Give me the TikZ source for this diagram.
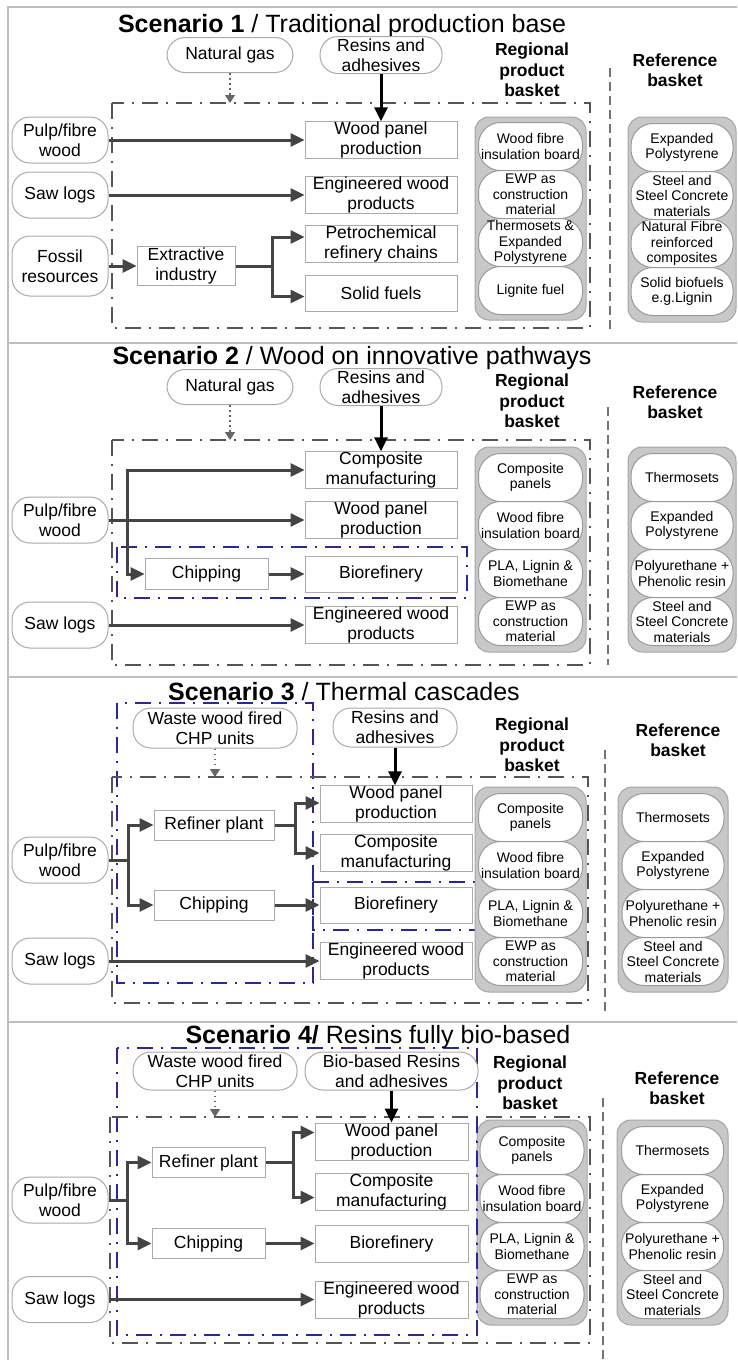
\documentclass[tikz,border=0pt]{standalone}
\usepackage{fontspec}
\setmainfont{Liberation Sans}
\usetikzlibrary{arrows.meta}
\definecolor{fr}{RGB}{85,85,85}
\definecolor{bl}{RGB}{40,40,150}
\definecolor{ar}{RGB}{68,68,68}
\definecolor{bx}{RGB}{170,170,170}
\definecolor{bk}{RGB}{200,200,200}
\newcommand\fA{\fontsize{17.5}{20}\selectfont}
\newcommand\fB{\fontsize{14}{15.5}\selectfont}
\newcommand\fT{\fontsize{25}{28}\selectfont}
\newcommand\fL{\fontsize{17.5}{20.5}\selectfont\bfseries}
\begin{document}
\begin{tikzpicture}[x=1pt,y=-1pt,
  src/.style={draw=bx, fill=white, line width=1pt, rounded corners=18pt, align=center, inner sep=0pt, font=\fA},
  proc/.style={draw=bx, fill=white, line width=1pt, align=center, inner sep=0pt, font=\fA},
  lab/.style={align=center, inner sep=0pt, font=\fL},
  ttl/.style={anchor=base, inner sep=0pt, font=\fT},
  basket/.style={draw=black!35, fill=bk, line width=1pt, rounded corners=14pt, inner sep=0pt},
  pill/.style={draw=black!40, fill=white, line width=1pt, rounded corners=22pt, align=center, inner sep=0pt, font=\fB, minimum height=48pt},
  flow/.style={draw=ar, line width=3pt, -{Triangle[length=14pt,width=13pt]}},
  flowline/.style={draw=ar, line width=3pt},
  blk/.style={draw=black, line width=3pt, -{Triangle[length=14pt,width=13pt]}},
  dots/.style={draw=black!60, line width=1.5pt, dash pattern=on 1.5pt off 3.5pt, -{Triangle[length=8pt,width=10pt]}},
  gframe/.style={draw=fr, line width=2.6pt, dash pattern=on 16pt off 18pt, preaction={draw=fr, line width=1.2pt, dash pattern=on 2pt off 32pt, dash phase=10pt}},
  bframe/.style={draw=bl, line width=2.2pt, dash pattern=on 16pt off 18pt, preaction={draw=bl, line width=1.2pt, dash pattern=on 2pt off 32pt, dash phase=10pt}},
  vdash/.style={draw=black!55, line width=1.3pt, dash pattern=on 9pt off 5pt},
  sep/.style={draw=black!25, line width=2pt}
]
\useasboundingbox (0,0) rectangle (737,1360);
\fill[white] (0,0) rectangle (737,1360);
% border and separators
\draw[sep] (8,1360) -- (8,7) -- (737,7);
\draw[sep] (8,343) -- (737,343);
\draw[sep] (8,677) -- (737,677);
\draw[sep] (8,1022) -- (737,1022);

%================ Scenario 1
\draw[gframe] (112,103) rectangle (590,328);
\draw[vdash] (610,68) -- (610,333);
\node[ttl] (t1) at (342,32) {\textbf{Scenario 1} / Traditional production base};
\node[src, minimum width=126pt, minimum height=35pt] (ng1) at (230,55) {Natural gas};
\node[src, minimum width=122pt, minimum height=37pt] (rs1) at (381,55) {Resins and\\adhesives};
\node[lab] (rl1) at (532,70) {Regional\\product\\basket};
\node[lab] (rb1) at (675,70) {Reference\\basket};
\node[src, minimum width=96pt, minimum height=46pt] (pu1) at (60,140) {Pulp/fibre\\wood};
\node[src, minimum width=96pt, minimum height=46pt] (sl1) at (60,195) {Saw logs};
\node[src, minimum width=96pt, minimum height=60pt] (fo1) at (60,266) {Fossil\\resources};
\node[proc, minimum width=98pt, minimum height=39pt] (ex1) at (186,266) {Extractive\\industry};
\node[proc, minimum width=152pt, minimum height=36pt] (wp1) at (381,140) {Wood panel\\production};
\node[proc, minimum width=152pt, minimum height=36pt] (ew1) at (381,195) {Engineered wood\\products};
\node[proc, minimum width=152pt, minimum height=36pt] (pe1) at (381,244) {Petrochemical\\refinery chains};
\node[proc, minimum width=152pt, minimum height=36pt] (so1) at (381,293.5) {Solid fuels};
\node[basket, minimum width=111pt, minimum height=203pt] (rg1) at (530.5,218.5) {};
\node[pill, minimum width=104pt] (a11) at (530.5,146.5) {Wood fibre\\insulation board};
\node[pill, minimum width=104pt] (a12) at (530.5,194.5) {EWP as\\construction\\material};
\node[pill, minimum width=104pt] (a13) at (530.5,242.5) {Thermosets \&\\Expanded\\Polystyrene};
\node[pill, minimum width=104pt] (a14) at (530.5,290.5) {Lignite fuel};
\node[basket, minimum width=108pt, minimum height=205pt] (rk1) at (682,219.5) {};
\node[pill, minimum width=102pt] (b11) at (682,147.5) {Expanded\\Polystyrene};
\node[pill, minimum width=102pt] (b12) at (682,195.5) {Steel and\\Steel Concrete\\materials};
\node[pill, minimum width=102pt] (b13) at (682,243.5) {Natural Fibre\\reinforced\\composites};
\node[pill, minimum width=102pt] (b14) at (682,291.5) {Solid biofuels\\e.g.Lignin};
\coordinate (f1) at (230,103);
\draw[dots] (ng1.south) -- (f1);
\draw[blk] (rs1.south) -- (wp1.north);
\draw[flow] (pu1.east) -- (wp1.west);
\draw[flow] (sl1.east) -- (ew1.west);
\draw[flow] (fo1.east) -- (ex1.west);
\coordinate (b1) at (272,266);
\draw[flowline] (ex1.east) -- (b1);
\draw[flow] (b1) |- ([yshift=7pt]pe1.west);
\draw[flow] (b1) |- ([yshift=-3pt]so1.west);

%================ Scenario 2
\draw[gframe] (112,440) rectangle (590,665);
\draw[bframe] (117,547) rectangle (467,598);
\draw[vdash] (608,407) -- (608,665);
\node[ttl] (t2) at (352,364) {\textbf{Scenario 2} / Wood on innovative pathways};
\node[src, minimum width=126pt, minimum height=35pt] (ng2) at (230,387) {Natural gas};
\node[src, minimum width=122pt, minimum height=37pt] (rs2) at (381,387) {Resins and\\adhesives};
\node[lab] (rl2) at (532,401) {Regional\\product\\basket};
\node[lab] (rb2) at (675,402) {Reference\\basket};
\node[src, minimum width=96pt, minimum height=46pt] (pu2) at (60,520) {Pulp/fibre\\wood};
\node[src, minimum width=96pt, minimum height=46pt] (sl2) at (60,625) {Saw logs};
\node[proc, minimum width=152pt, minimum height=36pt] (cm2) at (381,470) {Composite\\manufacturing};
\node[proc, minimum width=152pt, minimum height=36pt] (wp2) at (381,520) {Wood panel\\production};
\node[proc, minimum width=152pt, minimum height=36pt] (bi2) at (381,574) {Biorefinery};
\node[proc, minimum width=152pt, minimum height=36pt] (ew2) at (381,625) {Engineered wood\\products};
\node[proc, minimum width=123pt, minimum height=31pt] (ch2) at (206.5,574) {Chipping};
\node[basket, minimum width=111pt, minimum height=205pt] (rg2) at (530.5,549.5) {};
\node[pill, minimum width=104pt] (a21) at (530.5,477.5) {Composite\\panels};
\node[pill, minimum width=104pt] (a22) at (530.5,525.5) {Wood fibre\\insulation board};
\node[pill, minimum width=104pt] (a23) at (530.5,573.5) {PLA, Lignin \&\\Biomethane};
\node[pill, minimum width=104pt] (a24) at (530.5,621.5) {EWP as\\construction\\material};
\node[basket, minimum width=108pt, minimum height=205pt] (rk2) at (682,549.5) {};
\node[pill, minimum width=102pt] (b21) at (682,477.5) {Thermosets};
\node[pill, minimum width=102pt] (b22) at (682,525.5) {Expanded\\Polystyrene};
\node[pill, minimum width=102pt] (b23) at (682,573.5) {Polyurethane +\\Phenolic resin};
\node[pill, minimum width=102pt] (b24) at (682,621.5) {Steel and\\Steel Concrete\\materials};
\coordinate (f2) at (230,440);
\draw[dots] (ng2.south) -- (f2);
\draw[blk] (rs2.south) -- (cm2.north);
\draw[flow] (pu2.east) -- (wp2.west);
\coordinate (j2) at (127,520);
\draw[flow] (j2) |- (cm2.west);
\draw[flow] (j2) |- (ch2.west);
\draw[flow] (ch2.east) -- (bi2.west);
\draw[flow] (sl2.east) -- (ew2.west);

%================ Scenario 3
\draw[bframe] (117,703) rectangle (313,983);
\draw[gframe] (112,777) rectangle (588,1003);
\draw[bframe] (313,882) rectangle (477,930);
\draw[vdash] (605,750) -- (605,1013);
\node[ttl] (t3) at (344,700) {\textbf{Scenario 3} / Thermal cascades};
\node[src, minimum width=164pt, minimum height=40pt] (ww3) at (215,728) {Waste wood fired\\CHP units};
\node[src, minimum width=124pt, minimum height=39pt] (rs3) at (395,727.5) {Resins and\\adhesives};
\node[lab] (rl3) at (532,745) {Regional\\product\\basket};
\node[lab] (rb3) at (678,740) {Reference\\basket};
\node[src, minimum width=96pt, minimum height=46pt] (pu3) at (60,860) {Pulp/fibre\\wood};
\node[src, minimum width=96pt, minimum height=46pt] (sl3) at (60,961) {Saw logs};
\node[proc, minimum width=152pt, minimum height=36pt] (wp3) at (396,804) {Wood panel\\production};
\node[proc, minimum width=152pt, minimum height=36pt] (cm3) at (396,853) {Composite\\manufacturing};
\node[proc, minimum width=152pt, minimum height=36pt] (bi3) at (396,905) {Biorefinery};
\node[proc, minimum width=152pt, minimum height=36pt] (ew3) at (396,961) {Engineered wood\\products};
\node[proc, minimum width=120pt, minimum height=30pt] (rf3) at (214,825) {Refiner plant};
\node[proc, minimum width=120pt, minimum height=30pt] (ch3) at (214,905) {Chipping};
\node[basket, minimum width=111pt, minimum height=205pt] (rg3) at (530.5,889.5) {};
\node[pill, minimum width=104pt] (a31) at (530.5,817.5) {Composite\\panels};
\node[pill, minimum width=104pt] (a32) at (530.5,865.5) {Wood fibre\\insulation board};
\node[pill, minimum width=104pt] (a33) at (530.5,913.5) {PLA, Lignin \&\\Biomethane};
\node[pill, minimum width=104pt] (a34) at (530.5,961.5) {EWP as\\construction\\material};
\node[basket, minimum width=110pt, minimum height=205pt] (rk3) at (673,889.5) {};
\node[pill, minimum width=102pt] (b31) at (673,817.5) {Thermosets};
\node[pill, minimum width=102pt] (b32) at (673,865.5) {Expanded\\Polystyrene};
\node[pill, minimum width=102pt] (b33) at (673,913.5) {Polyurethane +\\Phenolic resin};
\node[pill, minimum width=102pt] (b34) at (673,961.5) {Steel and\\Steel Concrete\\materials};
\coordinate (f3) at (215,777);
\draw[dots] (ww3.south) -- (f3);
\draw[blk] (rs3.south) -- (rs3.south |- wp3.north);
\coordinate (j3) at (128,860);
\draw[flowline] (pu3.east) -- (j3);
\draw[flow] (j3) |- (rf3.west);
\draw[flow] (j3) |- (ch3.west);
\coordinate (k3) at (295,825);
\draw[flowline] (rf3.east) -- (k3);
\draw[flow] (k3) |- ([yshift=1pt]wp3.west);
\draw[flow] (k3) |- (cm3.west);
\draw[flow] (ch3.east) -- (bi3.west);
\draw[flow] (sl3.east) -- (ew3.west);

%================ Scenario 4
\draw[bframe] (117,1048) rectangle (477,1335);
\draw[gframe] (110,1117) rectangle (590,1343);
\draw[vdash] (603,1098) -- (603,1360);
\node[ttl] (t4) at (378,1043) {\textbf{Scenario 4/} Resins fully bio-based};
\node[src, minimum width=164pt, minimum height=38pt] (ww4) at (215,1071) {Waste wood fired\\CHP units};
\node[src, minimum width=173pt, minimum height=38pt] (rs4) at (391.5,1071) {Bio-based Resins\\and adhesives};
\node[lab] (rl4) at (530,1083) {Regional\\product\\basket};
\node[lab] (rb4) at (677,1088) {Reference\\basket};
\node[src, minimum width=96pt, minimum height=46pt] (pu4) at (60,1200) {Pulp/fibre\\wood};
\node[src, minimum width=96pt, minimum height=46pt] (sl4) at (60,1299.5) {Saw logs};
\node[proc, minimum width=153pt, minimum height=37pt] (wp4) at (391.5,1141.5) {Wood panel\\production};
\node[proc, minimum width=153pt, minimum height=37pt] (cm4) at (391.5,1191.5) {Composite\\manufacturing};
\node[proc, minimum width=153pt, minimum height=37pt] (bi4) at (391.5,1243.5) {Biorefinery};
\node[proc, minimum width=153pt, minimum height=37pt] (ew4) at (391.5,1299.5) {Engineered wood\\products};
\node[proc, minimum width=113pt, minimum height=30pt] (rf4) at (208.5,1162.5) {Refiner plant};
\node[proc, minimum width=113pt, minimum height=30pt] (ch4) at (208.5,1243.5) {Chipping};
\node[basket, minimum width=110pt, minimum height=205pt] (rg4) at (532,1222.5) {};
\node[pill, minimum width=104pt] (a41) at (532,1150.5) {Composite\\panels};
\node[pill, minimum width=104pt] (a42) at (532,1198.5) {Wood fibre\\insulation board};
\node[pill, minimum width=104pt] (a43) at (532,1246.5) {PLA, Lignin \&\\Biomethane};
\node[pill, minimum width=104pt] (a44) at (532,1294.5) {EWP as\\construction\\material};
\node[basket, minimum width=111pt, minimum height=205pt] (rk4) at (672.5,1222.5) {};
\node[pill, minimum width=102pt] (b41) at (672.5,1150.5) {Thermosets};
\node[pill, minimum width=102pt] (b42) at (672.5,1198.5) {Expanded\\Polystyrene};
\node[pill, minimum width=102pt] (b43) at (672.5,1246.5) {Polyurethane +\\Phenolic resin};
\node[pill, minimum width=102pt] (b44) at (672.5,1294.5) {Steel and\\Steel Concrete\\materials};
\draw[bframe] (477,1117) -- (477,1335);
\coordinate (f4) at (215,1117);
\draw[dots] (ww4.south) -- (f4);
\draw[blk] (rs4.south) -- (rs4.south |- wp4.north);
\coordinate (j4) at (127,1200);
\draw[flowline] (pu4.east) -- (j4);
\draw[flow] (j4) |- (rf4.west);
\draw[flow] (j4) |- (ch4.west);
\coordinate (k4) at (293,1162.5);
\draw[flowline] (rf4.east) -- (k4);
\draw[flow] (k4) |- ([yshift=9pt]wp4.west);
\draw[flow] (k4) |- ([yshift=-6pt]cm4.west);
\draw[flow] (ch4.east) -- (bi4.west);
\draw[flow] (sl4.east) -- (ew4.west);
\end{tikzpicture}
\end{document}
